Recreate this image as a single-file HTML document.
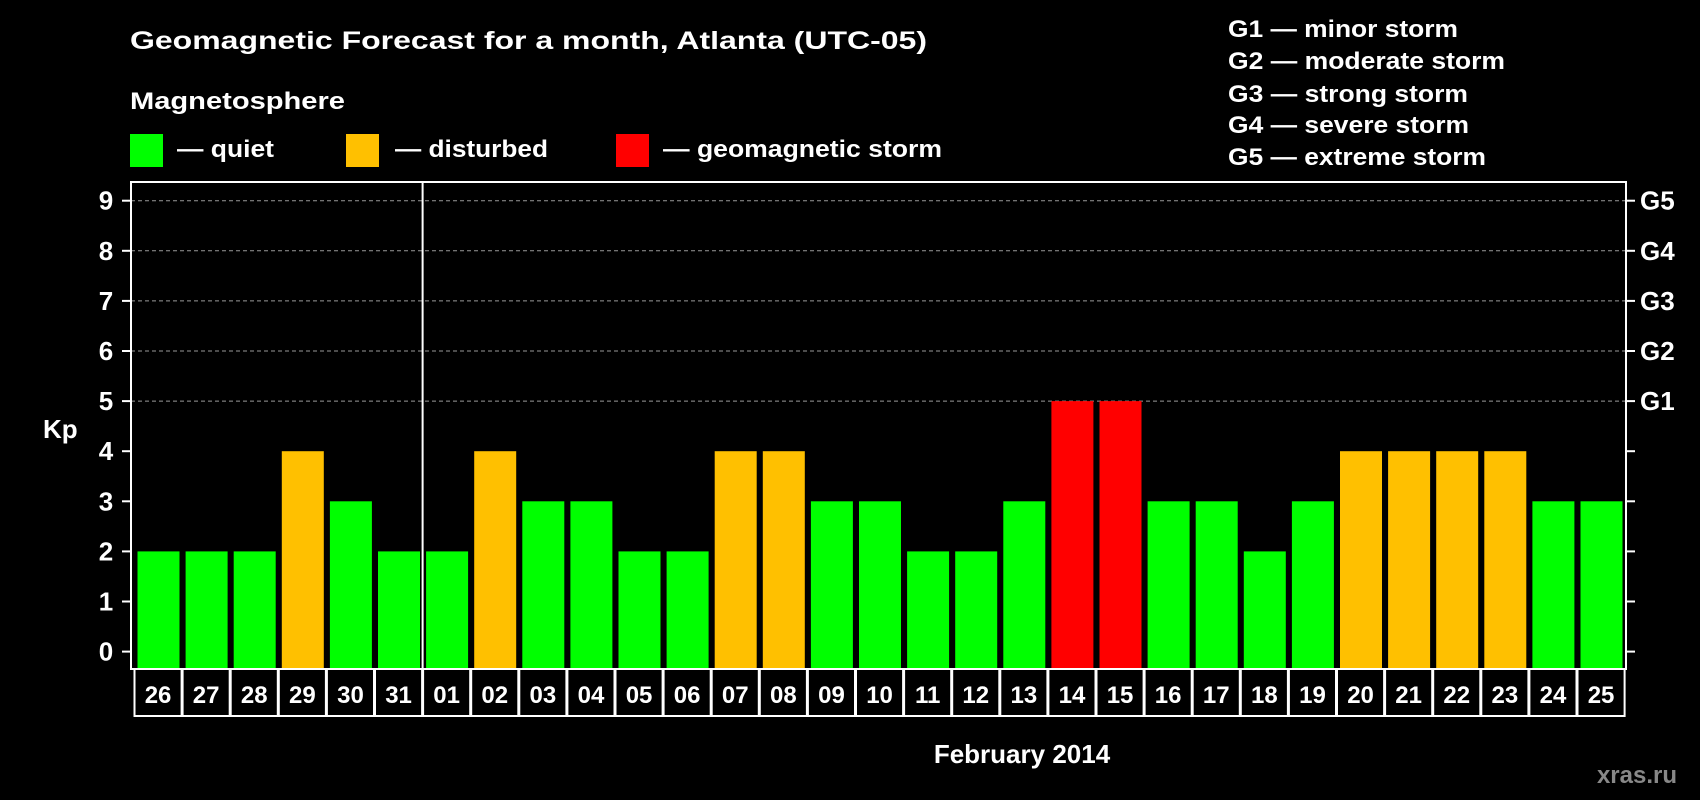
<!DOCTYPE html>
<html><head><meta charset="utf-8"><style>
html,body{margin:0;padding:0;background:#000;}
svg{display:block;font-family:"Liberation Sans",Arial,sans-serif;font-weight:bold;}
</style></head><body>
<svg id="chart" width="1700" height="800" viewBox="0 0 1700 800">
<text x="130" y="49" font-size="25" fill="#fff" textLength="797" lengthAdjust="spacingAndGlyphs">Geomagnetic Forecast for a month, Atlanta (UTC-05)</text>
<text x="130" y="109" font-size="24" fill="#fff" textLength="215" lengthAdjust="spacingAndGlyphs">Magnetosphere</text>
<g><rect x="130" y="134" width="33" height="33" fill="#00ff00"/><text x="177" y="157" font-size="24" fill="#fff" textLength="97" lengthAdjust="spacingAndGlyphs">— quiet</text></g>
<g><rect x="346" y="134" width="33" height="33" fill="#ffc000"/><text x="395" y="157" font-size="24" fill="#fff" textLength="153" lengthAdjust="spacingAndGlyphs">— disturbed</text></g>
<g><rect x="616" y="134" width="33" height="33" fill="#ff0000"/><text x="663" y="157" font-size="24" fill="#fff" textLength="279" lengthAdjust="spacingAndGlyphs">— geomagnetic storm</text></g>
<g font-size="24" fill="#fff">
<text x="1228" y="37" textLength="230" lengthAdjust="spacingAndGlyphs">G1 — minor storm</text>
<text x="1228" y="69" textLength="277" lengthAdjust="spacingAndGlyphs">G2 — moderate storm</text>
<text x="1228" y="102" textLength="240" lengthAdjust="spacingAndGlyphs">G3 — strong storm</text>
<text x="1228" y="133" textLength="241" lengthAdjust="spacingAndGlyphs">G4 — severe storm</text>
<text x="1228" y="165" textLength="258" lengthAdjust="spacingAndGlyphs">G5 — extreme storm</text>
</g>
<text x="43" y="438" font-size="26" fill="#fff">Kp</text>
<text x="1022" y="763" font-size="26" fill="#fff" text-anchor="middle">February 2014</text>
<text x="1677" y="783" font-size="24" fill="#888" text-anchor="end">xras.ru</text>
<g id="plot"></g>
</svg>
<script>
const days=["26","27","28","29","30","31","01","02","03","04","05","06","07","08","09","10","11","12","13","14","15","16","17","18","19","20","21","22","23","24","25"];
const kp=[2,2,2,4,3,2,2,4,3,3,2,2,4,4,3,3,2,2,3,5,5,3,3,2,3,4,4,4,4,3,3];
const yTicks=[0,1,2,3,4,5,6,7,8,9];
const gLabels=["","","","","","G1","G2","G3","G4","G5"];
const NS="http://www.w3.org/2000/svg";
const plot=document.getElementById('plot');
const L=131,R=1626,T=182,B=669,X0=134,STEP=48.1;
function y(v){return 651.6-v*50.1;}
function x(i){return X0+i*STEP;}
function mk(t,a){const e=document.createElementNS(NS,t);for(const k in a)e.setAttribute(k,a[k]);plot.appendChild(e);return e;}
yTicks.forEach(v=>{
  if(v>=5){const g=mk('line',{x1:L,x2:R,y1:y(v),y2:y(v),stroke:'#999','stroke-dasharray':'4,3','stroke-width':1});
  
  }
  const t1=mk('line',{x1:L-9,x2:L,y1:y(v),y2:y(v),stroke:'#fff','stroke-width':2});
  
  
  const t2=mk('line',{x1:R,x2:R+9,y1:y(v),y2:y(v),stroke:'#fff','stroke-width':2});
  
  
  const lb=mk('text',{x:106,y:y(v)+9,'font-size':26,fill:'#fff','text-anchor':'middle'});lb.textContent=v;
  
  
  if(gLabels[v]){const g=mk('text',{x:1640,y:y(v)+9,'font-size':26,fill:'#fff'});g.textContent=gLabels[v];
  
  }
});
kp.forEach((v,i)=>{
  const c=v>=5?'#ff0000':(v>=4?'#ffc000':'#00ff00');
  const b=mk('rect',{x:x(i)+3.5,y:y(v),width:42,height:B-y(v),fill:c});
  
  
  const bx=mk('rect',{x:x(i)+0.5,y:B,width:STEP-1,height:47,fill:'none',stroke:'#fff','stroke-width':2});
  
  
  const t=mk('text',{x:x(i)+STEP/2,y:703,'font-size':24,fill:'#fff','text-anchor':'middle'});t.textContent=days[i];
  
  
});
const f=mk('rect',{x:L,y:T,width:R-L,height:B-T,fill:'none',stroke:'#fff','stroke-width':2});


const d=mk('line',{x1:x(6),x2:x(6),y1:T,y2:B,stroke:'#fff','stroke-width':2});


</script>
</body></html>
